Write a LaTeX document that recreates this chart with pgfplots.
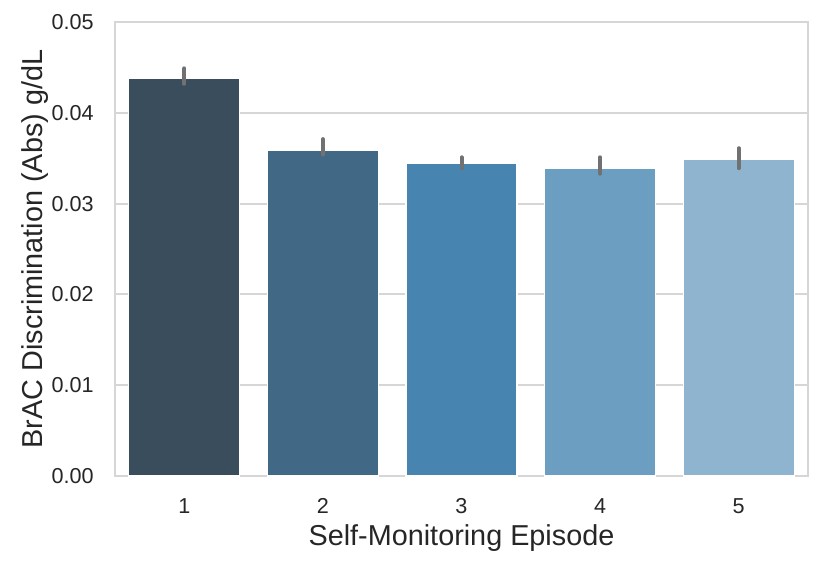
\documentclass[border=0pt]{standalone}
\usepackage{pgfplots}
\pgfplotsset{compat=1.18}
\usepackage{fontspec}
\setmainfont{Liberation Sans}
\definecolor{txt}{HTML}{262626}
\definecolor{gridc}{HTML}{D6D6D6}
\definecolor{c1}{HTML}{3A4D5C}
\definecolor{c2}{HTML}{416986}
\definecolor{c3}{HTML}{4884B0}
\definecolor{c4}{HTML}{6B9EC0}
\definecolor{c5}{HTML}{8FB4CF}
\definecolor{errc}{HTML}{717171}
\begin{document}
\begin{tikzpicture}
\useasboundingbox (-57.5pt,-46pt) rectangle (356.5pt,238pt);
\begin{axis}[
  at={(0,0)}, anchor=south west,
  width=346.5pt, height=227pt, scale only axis,
  xmin=-0.5, xmax=4.5, ymin=0, ymax=0.05,
  xtick={0,1,2,3,4}, xticklabels={1,2,3,4,5},
  ytick={0,0.01,0.02,0.03,0.04,0.05},
  yticklabel style={/pgf/number format/fixed, /pgf/number format/fixed zerofill, /pgf/number format/precision=2, anchor=east, inner sep=0pt, xshift=-10.5pt},
  xticklabel style={anchor=base, inner sep=0pt, yshift=-18.6pt},
  scaled y ticks=false,
  /pgf/number format/assume math mode=true,
  tick label style={font=\fontsize{10.8pt}{12pt}\selectfont, text=txt},
  label style={font=\fontsize{14.4pt}{16pt}\selectfont, text=txt},
  xlabel={Self-Monitoring Episode},
  ylabel={BrAC Discrimination (Abs) g/dL},
  xlabel style={at={(axis description cs:0.5,0)}, anchor=base, inner sep=0pt, yshift=-34.8pt},
  ylabel style={at={(axis description cs:0,0.5)}, anchor=south, inner sep=0pt, yshift=33pt},
  major tick length=0pt,
  ymajorgrids, grid style={gridc, line width=1pt},
  axis line style={gridc, line width=1pt},
  ybar, bar width=0.8, bar shift=0pt,
  error bars/error bar style={errc, line width=2pt, line cap=round},
  error bars/error mark=none,
]
\addplot[fill=c1, draw=white, line width=0.6pt, error bars/.cd, y dir=both, y explicit] table[y error plus=ep, y error minus=em] {
x y ep em
0 0.0438 0.0011 0.0006
};
\addplot[fill=c2, draw=white, line width=0.6pt, error bars/.cd, y dir=both, y explicit] table[y error plus=ep, y error minus=em] {
x y ep em
1 0.0359 0.0012 0.0005
};
\addplot[fill=c3, draw=white, line width=0.6pt, error bars/.cd, y dir=both, y explicit] table[y error plus=ep, y error minus=em] {
x y ep em
2 0.0344 0.0007 0.0005
};
\addplot[fill=c4, draw=white, line width=0.6pt, error bars/.cd, y dir=both, y explicit] table[y error plus=ep, y error minus=em] {
x y ep em
3 0.0339 0.0012 0.0006
};
\addplot[fill=c5, draw=white, line width=0.6pt, error bars/.cd, y dir=both, y explicit] table[y error plus=ep, y error minus=em] {
x y ep em
4 0.0349 0.0012 0.0010
};
\end{axis}
\end{tikzpicture}
\end{document}
